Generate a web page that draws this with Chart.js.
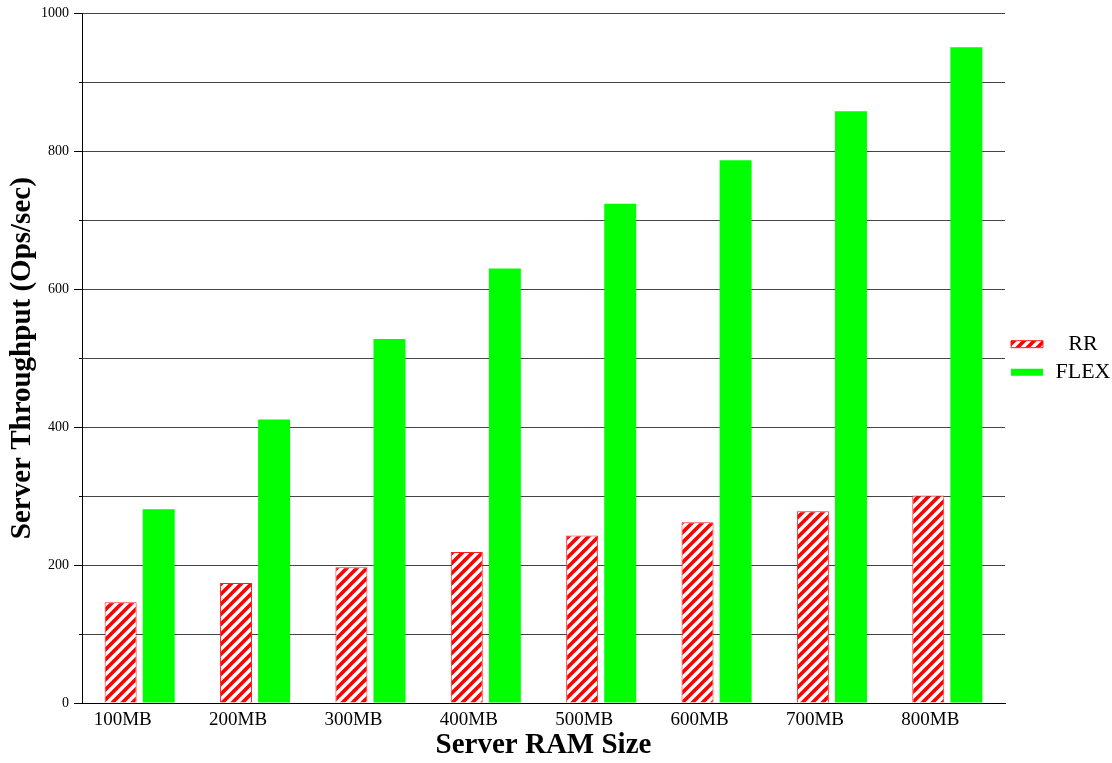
<!DOCTYPE html>
<html>
<head>
<meta charset="utf-8">
<script src="https://cdn.jsdelivr.net/npm/chart.js@4/dist/chart.umd.min.js"></script>
<style>
  body { margin: 0; background: #fff; }
  canvas { display: block; }
</style>
</head>
<body>
<canvas id="chart" width="1112" height="763"></canvas>
<script>
// Datos
const ramSizes = ['100MB', '200MB', '300MB', '400MB', '500MB', '600MB', '700MB', '800MB'];
const rrValues = [146, 174, 197, 219, 243, 262, 278, 301];
const flexValues = [281, 411, 528, 630, 724, 787, 858, 951];

const serif = "'Liberation Serif', 'Times New Roman', serif";

// Patrón rayado rojo/blanco para la serie RR
function makeHatch() {
  const size = 10;
  const c = document.createElement('canvas');
  c.width = size;
  c.height = size;
  const g = c.getContext('2d');
  g.fillStyle = '#ff0000';
  g.fillRect(0, 0, size, size);
  g.strokeStyle = '#ffffff';
  g.lineWidth = 3.4;
  g.beginPath();
  g.moveTo(-2, size + 2); g.lineTo(size + 2, -2);
  g.moveTo(-2, 2); g.lineTo(2, -2);
  g.moveTo(size - 2, size + 2); g.lineTo(size + 2, size - 2);
  g.stroke();
  return g.createPattern(c, 'repeat');
}

// Fija el ancho de la leyenda para que el área del gráfico termine en x=1005
const legendWidthPlugin = {
  id: 'legendWidth',
  beforeLayout(chart) {
    const legend = chart.legend;
    if (legend && !legend._fixedFit) {
      const fit = legend.fit;
      legend.fit = function () {
        fit.call(this);
        this.width = 107;
      };
      legend._fixedFit = true;
    }
  },
};

const ctx = document.getElementById('chart').getContext('2d');
new Chart(ctx, {
  type: 'bar',
  data: {
    labels: ramSizes,
    datasets: [
      {
        label: 'RR',
        data: rrValues,
        backgroundColor: makeHatch(),
        borderColor: '#ff2020',
        borderWidth: 1,
        categoryPercentage: 0.66,
        barPercentage: 0.84,
      },
      {
        label: 'FLEX',
        data: flexValues,
        backgroundColor: '#00ff00',
        borderWidth: 0,
        categoryPercentage: 0.66,
        barPercentage: 0.84,
      },
    ],
  },
  plugins: [legendWidthPlugin],
  options: {
    responsive: false,
    animation: false,
    layout: { padding: { top: 8, bottom: 0, left: 0, right: 0 } },
    plugins: {
      tooltip: { enabled: false },
      legend: {
        position: 'right',
        fullSize: false,
        labels: {
          boxWidth: 32,
          boxHeight: 7,
          padding: 6,
          textAlign: 'center',
          color: '#000',
          font: { family: serif, size: 22 },
        },
      },
    },
    scales: {
      x: {
        afterFit(scale) { scale.height = 60; },
        grid: { display: false, drawTicks: false },
        border: { color: '#000', width: 1 },
        ticks: {
          color: '#000',
          padding: 6,
          labelOffset: -17,
          maxRotation: 0,
          font: { family: serif, size: 19 },
        },
        title: {
          display: true,
          text: 'Server RAM Size',
          color: '#000',
          padding: { top: 0, bottom: 0 },
          font: { family: serif, size: 29, weight: 'bold' },
        },
      },
      y: {
        min: 0,
        max: 1000,
        afterFit(scale) { scale.width = 82; },
        grid: {
          color: '#444',
          tickLength: 8,
          tickColor: '#000',
          // marcas menores más cortas en los valores impares
          tickBorderDash: c => (c.tick && c.tick.value % 200 !== 0 ? [0, 5, 3, 0] : []),
        },
        border: { color: '#000', width: 1 },
        ticks: {
          stepSize: 100,
          color: '#000',
          padding: 5,
          font: { family: serif, size: 14 },
          callback: v => (v % 200 === 0 ? v : ''),
        },
        title: {
          display: true,
          text: 'Server Throughput (Ops/sec)',
          color: '#000',
          padding: { top: 5, bottom: 0 },
          font: { family: serif, size: 29, weight: 'bold' },
        },
      },
    },
  },
});
</script>
</body>
</html>
